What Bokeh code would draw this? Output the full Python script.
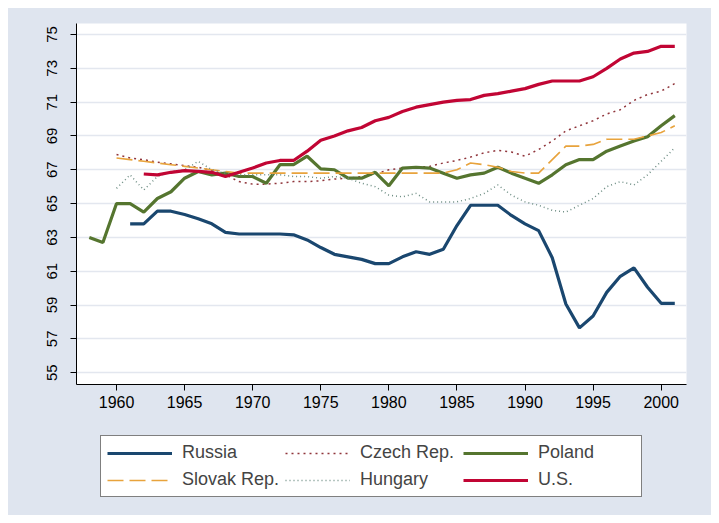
from bokeh.plotting import figure
from bokeh.models import Legend, LegendItem, FixedTicker, Range1d
from bokeh.layouts import column
from bokeh.embed import file_html
from bokeh.resources import INLINE

russia_years = list(range(1961, 2002))
russia = [63.8, 63.8, 64.55, 64.55, 64.35, 64.1, 63.8, 63.3, 63.2, 63.2,
          63.2, 63.2, 63.15, 62.85, 62.4, 62.0, 61.85, 61.7, 61.45, 61.45,
          61.85, 62.15, 62.0, 62.3, 63.7, 64.9, 64.9, 64.9, 64.3, 63.8,
          63.4, 61.8, 59.06, 57.65, 58.35, 59.75, 60.7, 61.2, 60.05, 59.1,
          59.1]

czech_years = list(range(1960, 2002))
czech = [67.9, 67.7, 67.6, 67.45, 67.35, 67.25, 67.15, 66.95, 66.7, 66.3,
         66.15, 66.15, 66.2, 66.3, 66.3, 66.35, 66.45, 66.5, 66.6, 66.75,
         67.0, 67.1, 67.15, 67.2, 67.4, 67.55, 67.75, 68.0, 68.15, 68.05,
         67.8, 68.2, 68.7, 69.3, 69.6, 69.9, 70.3, 70.55, 71.1, 71.45,
         71.65, 72.1]

poland_years = list(range(1958, 2002))
poland = [63.0, 62.7, 65.0, 65.0, 64.5, 65.3, 65.7, 66.5, 66.9, 66.7,
          66.8, 66.6, 66.6, 66.2, 67.3, 67.3, 67.8, 67.05, 67.0, 66.5,
          66.5, 66.85, 66.05, 67.1, 67.15, 67.1, 66.8, 66.5, 66.7, 66.8,
          67.15, 66.8, 66.5, 66.2, 66.7, 67.3, 67.6, 67.6, 68.1, 68.4,
          68.7, 68.95, 69.6, 70.2]

slovak_years = list(range(1960, 2002))
slovak = [67.7, 67.6, 67.5, 67.4, 67.3, 67.2, 67.1, 67.0, 66.9, 66.8,
          66.8, 66.8, 66.8, 66.8, 66.8, 66.8, 66.8, 66.8, 66.8, 66.8,
          66.8, 66.8, 66.8, 66.8, 66.8, 67.0, 67.4, 67.3, 67.15, 66.9,
          66.8, 66.8, 67.6, 68.4, 68.4, 68.5, 68.8, 68.8, 68.8, 69.0,
          69.2, 69.6]

hungary_years = list(range(1960, 2002))
hungary = [65.9, 66.7, 65.8, 66.6, 66.9, 67.0, 67.5, 67.0, 66.8, 66.7,
           66.7, 66.7, 66.7, 66.6, 66.6, 66.5, 66.6, 66.5, 66.2, 66.0,
           65.5, 65.4, 65.6, 65.1, 65.1, 65.1, 65.3, 65.6, 66.1, 65.5,
           65.1, 64.9, 64.6, 64.5, 64.9, 65.3, 66.0, 66.3, 66.1, 66.7,
           67.5, 68.3]

us_years = list(range(1962, 2002))
us = [66.75, 66.7, 66.85, 66.95, 66.9, 66.85, 66.6, 66.85, 67.1, 67.4,
      67.55, 67.55, 68.1, 68.75, 69.0, 69.3, 69.5, 69.9, 70.1, 70.45,
      70.7, 70.85, 71.0, 71.1, 71.15, 71.4, 71.5, 71.65, 71.8, 72.05,
      72.25, 72.25, 72.25, 72.5, 73.0, 73.55, 73.9, 74.0, 74.3, 74.3]

x_ticks = [1960, 1965, 1970, 1975, 1980, 1985, 1990, 1995, 2000]
y_ticks = [55, 57, 59, 61, 63, 65, 67, 69, 71, 73, 75]

BG = "#DFE5EF"
FONT = "Liberation Sans"

series = [
    ("Russia", russia_years, russia, dict(line_color="#1A476F", line_width=3.2)),
    ("Czech Rep.", czech_years, czech, dict(line_color="#90353B", line_width=1.5, line_dash="2 4")),
    ("Poland", poland_years, poland, dict(line_color="#55752F", line_width=3.2)),
    ("Slovak Rep.", slovak_years, slovak, dict(line_color="#E8A33C", line_width=1.6, line_dash="16 6")),
    ("Hungary", hungary_years, hungary, dict(line_color="#6E8E84", line_width=1.5, line_dash="1 3")),
    ("U.S.", us_years, us, dict(line_color="#C10534", line_width=3.2)),
]

p = figure(width=703, height=416, output_backend="svg", toolbar_location=None,
           x_range=Range1d(1957.06, 2001.86), y_range=Range1d(54.3, 75.65),
           min_border_left=68, min_border_right=25, min_border_top=15, min_border_bottom=40)
p.background_fill_color = "white"
p.border_fill_color = BG
p.outline_line_color = None
p.xgrid.grid_line_color = None
p.ygrid.grid_line_color = "#E3E7EF"
p.ygrid.grid_line_width = 1.5

p.xaxis.ticker = FixedTicker(ticks=x_ticks)
p.yaxis.ticker = FixedTicker(ticks=y_ticks)
for ax in (p.xaxis[0], p.yaxis[0]):
    ax.axis_line_color = "black"
    ax.major_tick_line_color = "black"
    ax.minor_tick_line_color = None
    ax.major_tick_out = 6
    ax.major_tick_in = 0
    ax.major_label_text_font = FONT
    ax.major_label_text_color = "black"
p.xaxis.major_label_text_font_size = "16px"
p.yaxis.major_label_text_font_size = "15px"
p.yaxis.major_label_orientation = "vertical"
p.yaxis.major_label_standoff = 13

for name, xs, ys, style in series:
    p.line(xs, ys, **style)

# legend panel: second figure below, same side borders so frames align
lg = figure(width=703, height=91, output_backend="svg", toolbar_location=None,
            x_range=Range1d(0, 1), y_range=Range1d(0, 1),
            x_axis_type=None, y_axis_type=None,
            min_border_left=68, min_border_right=25, min_border_top=0, min_border_bottom=0)
lg.background_fill_color = BG
lg.border_fill_color = BG
lg.outline_line_color = None
lg.xgrid.grid_line_color = None
lg.ygrid.grid_line_color = None

items = []
for name, xs, ys, style in series:
    r = lg.line(xs, ys, **style)   # data lies outside this figure's ranges; used only for legend glyphs
    items.append(LegendItem(label=name, renderers=[r]))

legend = Legend(items=items, orientation="horizontal", ncols=3, location=(24, 18))
legend.label_text_font = FONT
legend.label_text_font_size = "18px"
legend.glyph_width = 65
legend.glyph_height = 20
legend.label_standoff = 10
legend.label_width = 97
legend.spacing = 6
legend.padding = 6
legend.margin = 0
legend.border_line_color = "black"
legend.border_line_width = 1.5
legend.background_fill_color = "white"
legend.background_fill_alpha = 1.0
lg.add_layout(legend, "center")

layout = column(p, lg, spacing=0, margin=(8, 8, 8, 8), styles={"background-color": BG})
open("out.html", "w").write(file_html(layout, INLINE))
